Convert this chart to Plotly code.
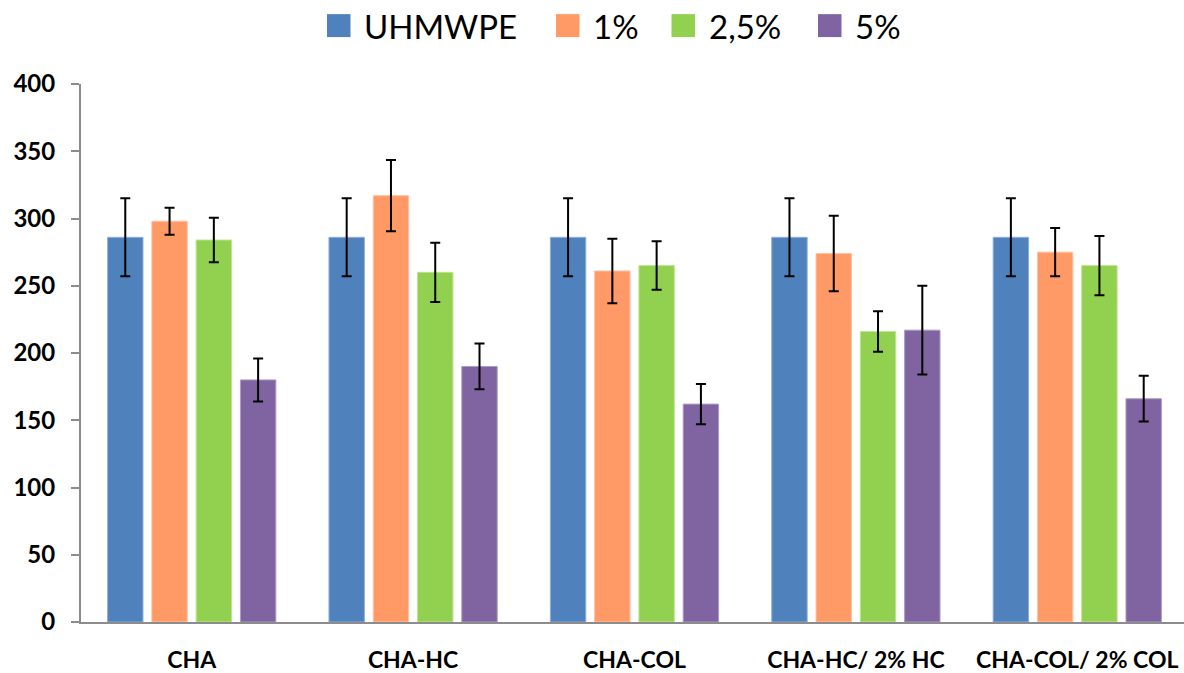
import plotly.graph_objects as go

# Tensile data per material group
categories = ["CHA", "CHA-HC", "CHA-COL", "CHA-HC/ 2% HC", "CHA-COL/ 2% COL"]
series_names = ["UHMWPE", "1%", "2,5%", "5%"]

uhmwpe = [286, 286, 286, 286, 286]
pct1 = [298, 317, 261, 274, 275]
pct25 = [284, 260, 265, 216, 265]
pct5 = [180, 190, 162, 217, 166]

uhmwpe_err = [29, 29, 29, 29, 29]
pct1_err = [10, 26.5, 24, 28, 18]
pct25_err = [16.5, 22, 18, 15, 22]
pct5_err = [16, 17, 15, 33, 17]

y_ticks = [0, 50, 100, 150, 200, 250, 300, 350, 400]

values = [uhmwpe, pct1, pct25, pct5]
errors = [uhmwpe_err, pct1_err, pct25_err, pct5_err]
colors = ["#4F81BD", "#FF9966", "#92D050", "#8064A2"]
edge_colors = ["#8FAEDB", "#FFC2A3", "#BEE58F", "#AE9BC6"]

fig = go.Figure()
for name, vals, errs, col, edge in zip(series_names, values, errors, colors, edge_colors):
    fig.add_trace(go.Bar(
        x=categories,
        y=vals,
        name=name,
        marker=dict(color=col, line=dict(color=edge, width=1)),
        error_y=dict(type="data", array=errs, visible=True,
                     color="black", thickness=2, width=5),
        showlegend=False,
    ))

# Legend drawn as colour squares with text above the plot
legend_x = [327, 556, 671.5, 818]
fig_w, fig_h = 1184, 673
for name, col, lx in zip(series_names, colors, legend_x):
    fig.add_shape(type="rect", xref="paper", yref="paper",
                  x0=(lx - 81) / (fig_w - 81), x1=(lx + 23.5 - 81) / (fig_w - 81),
                  y0=(622 - 36) / 539, y1=(622 - 13) / 539,
                  fillcolor=col, line=dict(width=0))
    fig.add_annotation(text=name, xref="paper", yref="paper",
                       x=(lx + 35 - 81) / (fig_w - 81), y=(622 - 24.5) / 539,
                       xanchor="left", yanchor="middle", showarrow=False,
                       font=dict(family="Lato", size=33, color="black"))

fig.update_layout(
    width=fig_w, height=fig_h,
    margin=dict(l=81, r=0, t=84, b=51),
    plot_bgcolor="white", paper_bgcolor="white",
    barmode="group", bargap=0.2, bargroupgap=0.2,
    font=dict(family="Lato", color="black"),
    xaxis=dict(
        range=[-0.5, 4.482],
        showline=True, linecolor="#8C8C8C", linewidth=2,
        ticks="", showgrid=False, zeroline=False,
        tickfont=dict(family="Lato", size=23, weight="bold"),
        ticklabelstandoff=16,
    ),
    yaxis=dict(
        range=[0, 400], tickvals=y_ticks,
        showline=True, linecolor="#8C8C8C", linewidth=2,
        ticks="outside", ticklen=8, tickcolor="#8C8C8C", tickwidth=2,
        showgrid=False, zeroline=False,
        tickfont=dict(family="Lato", size=24, weight="bold"),
        ticklabelstandoff=11,
    ),
)

fig.write_html("out.html")
